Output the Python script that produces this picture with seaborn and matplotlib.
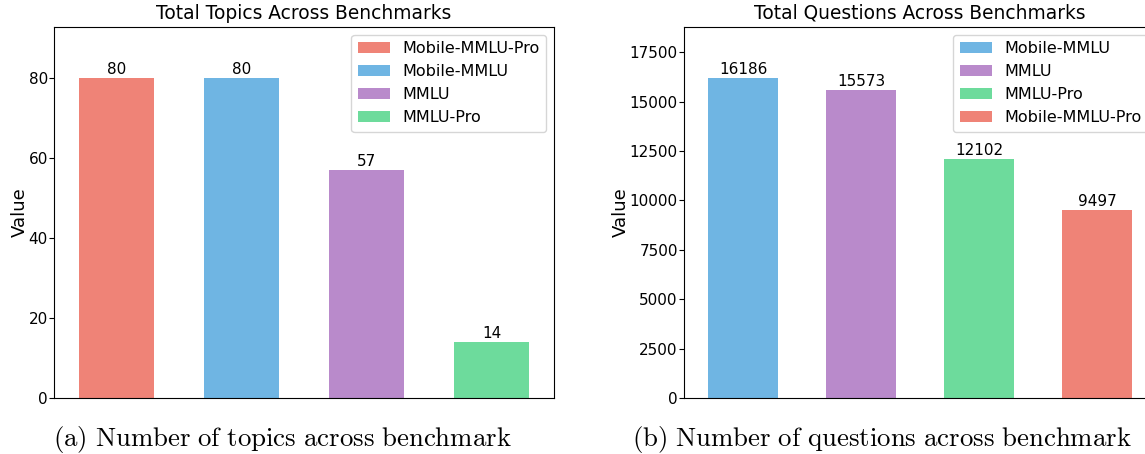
import matplotlib
matplotlib.use("Agg")
import matplotlib.pyplot as plt
import seaborn as sns

# Benchmark data
topic_benchmarks = ["Mobile-MMLU-Pro", "Mobile-MMLU", "MMLU", "MMLU-Pro"]
topic_counts = [80, 80, 57, 14]

question_benchmarks = ["Mobile-MMLU", "MMLU", "MMLU-Pro", "Mobile-MMLU-Pro"]
question_counts = [16186, 15573, 12102, 9497]

bench_colors = {
    "Mobile-MMLU-Pro": "#EF8377",
    "Mobile-MMLU": "#6FB5E3",
    "MMLU": "#B98ACB",
    "MMLU-Pro": "#6DDB9C",
}

titles = ["Total Topics Across Benchmarks", "Total Questions Across Benchmarks"]
captions = ["(a) Number of topics across benchmark",
            "(b) Number of questions across benchmark"]

plt.style.use("default")
plt.rcParams["font.family"] = ["DejaVu Sans"]
plt.rcParams["mathtext.fontset"] = "cm"

fig = plt.figure(figsize=(11.45, 4.54), dpi=100)
ax_left = fig.add_axes([0.0472, 0.1233, 0.4367, 0.817])
ax_right = fig.add_axes([0.5974, 0.1233, 0.4122, 0.817])


def draw_panel(ax, names, values, title):
    sns.barplot(x=names, y=values, hue=names, palette=bench_colors,
                width=0.6, saturation=1, ax=ax, legend=True)
    for cont in ax.containers:
        ax.bar_label(cont, fontsize=11, padding=1)
    ax.set_xlim(-0.5, len(names) - 0.5)
    ax.set_ylim(0, max(values) * 1.16)
    ax.set_xticks([])
    ax.set_xlabel("")
    ax.set_ylabel("Value", fontsize=13, labelpad=0)
    ax.tick_params(axis="y", labelsize=11, pad=1)
    ax.set_title(title, fontsize=13.4)
    ax.legend(loc="upper right", fontsize=11.5)


draw_panel(ax_left, topic_benchmarks, topic_counts, titles[0])
draw_panel(ax_right, question_benchmarks, question_counts, titles[1])

# Subfigure captions in a Computer Modern face
for xc, cap in zip([0.247, 0.77], captions):
    txt = r"$\mathrm{" + cap.replace(" ", r"\ ") + "}$"
    fig.text(xc, 0.018, txt, ha="center", va="baseline", fontsize=19.3)

fig.savefig("out.png", dpi=100)
